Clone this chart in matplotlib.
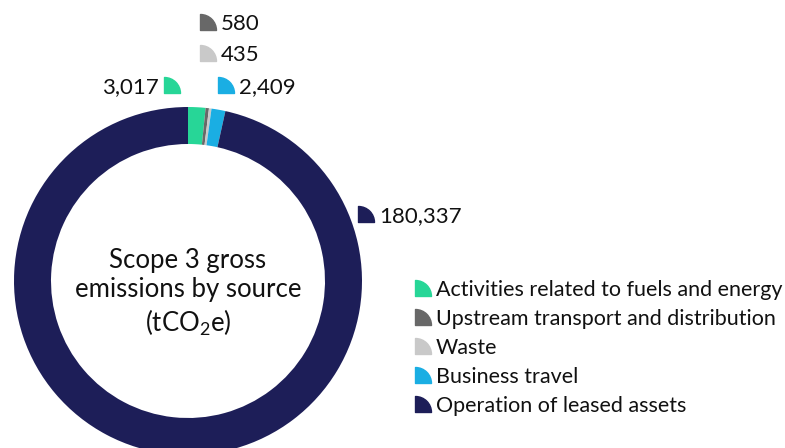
import matplotlib.pyplot as plt
from matplotlib.path import Path
import numpy as np

plt.rcParams['font.family'] = ['Lato', 'DejaVu Sans']
plt.rcParams['mathtext.fontset'] = 'custom'
plt.rcParams['mathtext.rm'] = 'Lato'

# Scope 3 emissions by source, tCO2e
sources = ['Activities related to fuels and energy',
           'Upstream transport and distribution',
           'Waste',
           'Business travel',
           'Operation of leased assets']
emissions = [3017, 580, 435, 2409, 180337]
colours = ['#27D697', '#686868', '#C9C9C9', '#1AAEE3', '#1D1E58']

W, H = 785, 448

# quarter-disc marker: flat left and bottom, rounded top-right
arc = Path.arc(0, 90)
verts = np.vstack([[0, 0], arc.vertices, [0, 0]]) - 0.5
codes = [Path.MOVETO] + [Path.LINETO] + list(arc.codes[1:]) + [Path.CLOSEPOLY]
quarter = Path(verts, codes)

fig = plt.figure(figsize=(W / 100, H / 100), dpi=100)
ax = fig.add_axes([0, 0, 1, 1])

cx, cy, r = 188, H - 281, 174
ax.pie(emissions, colors=colours, startangle=90, counterclock=False,
       center=(cx, cy), radius=r,
       wedgeprops=dict(width=37, linewidth=0))

ax.text(cx, H - 293, 'Scope 3 gross\nemissions by source\n(tCO$_\\mathregular{2}$e)',
        ha='center', va='center', fontsize=18.5, linespacing=1.2, color='#111111')

# value labels around the ring: (marker x, y, text side)
label_pos = [(172, 85, 'left'), (208, 22, 'right'), (208, 53, 'right'),
             (226, 85, 'right'), (366, 214, 'right')]
for v, c, (mx, my, side) in zip(emissions, colours, label_pos):
    ax.plot(mx, H - my, marker=quarter, markersize=11.5, color=c, ls='none')
    if side == 'right':
        ax.text(mx + 13, H - my, f'{v:,}', ha='left', va='center_baseline',
                fontsize=16, color='#111111')
    else:
        ax.text(mx - 13, H - my, f'{v:,}', ha='right', va='center_baseline',
                fontsize=16, color='#111111')

# legend
for i, (s, c) in enumerate(zip(sources, colours)):
    ly = H - (288 + 29 * i)
    ax.plot(423, ly, marker=quarter, markersize=11.5, color=c, ls='none')
    ax.text(436, ly, s, ha='left', va='center_baseline', fontsize=15.5,
            color='#111111')

ax.set_xlim(0, W)
ax.set_ylim(0, H)
ax.set_aspect('equal')
ax.axis('off')

fig.savefig('out.png', dpi=100)
